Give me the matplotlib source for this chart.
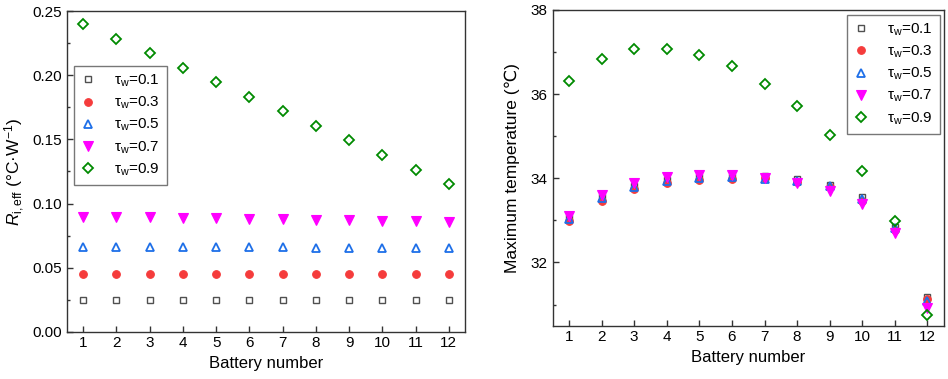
import matplotlib
matplotlib.use("Agg")
import matplotlib.pyplot as plt
from matplotlib.ticker import MultipleLocator

plt.rcParams['font.family'] = ['Liberation Sans', 'DejaVu Sans']
plt.rcParams['mathtext.fontset'] = 'custom'
plt.rcParams['mathtext.rm'] = 'Liberation Sans'
plt.rcParams['mathtext.it'] = 'Liberation Sans:italic'
plt.rcParams['mathtext.bf'] = 'Liberation Sans:bold'

batteries = [1, 2, 3, 4, 5, 6, 7, 8, 9, 10, 11, 12]
tau_labels = ['0.1', '0.3', '0.5', '0.7', '0.9']

# Left panel: effective thermal resistance
r_01 = [0.025, 0.025, 0.025, 0.025, 0.025, 0.025, 0.025, 0.025, 0.025, 0.025, 0.025, 0.025]
r_03 = [0.045, 0.045, 0.045, 0.045, 0.045, 0.045, 0.045, 0.0448, 0.0448, 0.0448, 0.0448, 0.0447]
r_05 = [0.066, 0.066, 0.066, 0.066, 0.066, 0.066, 0.0658, 0.0656, 0.0655, 0.0655, 0.0654, 0.0652]
r_07 = [0.0895, 0.0893, 0.0891, 0.0888, 0.0884, 0.0881, 0.0877, 0.0873, 0.0869, 0.0865, 0.0861, 0.0857]
r_09 = [0.240, 0.2287, 0.2172, 0.206, 0.1946, 0.1834, 0.172, 0.1605, 0.1493, 0.1379, 0.1264, 0.1152]

# Right panel: maximum temperature
t_01 = [33.05, 33.55, 33.82, 33.95, 34.02, 34.04, 34.06, 33.97, 33.85, 33.56, 32.84, 31.19]
t_03 = [32.99, 33.47, 33.74, 33.88, 33.96, 33.99, 34.00, 33.92, 33.80, 33.46, 32.78, 31.12]
t_05 = [33.03, 33.52, 33.79, 33.93, 34.00, 34.02, 33.99, 33.93, 33.81, 33.50, 32.81, 31.09]
t_07 = [33.11, 33.61, 33.88, 34.02, 34.07, 34.07, 34.01, 33.89, 33.69, 33.38, 32.71, 30.92]
t_09 = [36.30, 36.83, 37.06, 37.08, 36.93, 36.66, 36.25, 35.72, 35.03, 34.16, 32.98, 30.74]

styles = [
    dict(marker='s', mfc='none', mec='#505050', ms=4.2, mew=1.0),
    dict(marker='o', mfc='#F53C3C', mec='#F53C3C', ms=5.5, mew=0.8),
    dict(marker='^', mfc='none', mec='#1E6FE8', ms=6.2, mew=1.3),
    dict(marker='v', mfc='#FF00FF', mec='#FF00FF', ms=6.5, mew=0.8),
    dict(marker='D', mfc='none', mec='#008A00', ms=5.0, mew=1.3),
]

fig = plt.figure(figsize=(9.48, 3.79), dpi=100)
ax1 = fig.add_axes([0.0703, 0.125, 0.4207, 0.845])
ax2 = fig.add_axes([0.583, 0.141, 0.4125, 0.833])

def style_axes(ax):
    for s in ax.spines.values():
        s.set_color('#333333')
        s.set_linewidth(1.0)
    ax.tick_params(which='major', direction='in', length=4.5, width=1.0,
                   colors='#333333', labelcolor='black', labelsize=11,
                   top=False, right=False)
    ax.tick_params(which='minor', direction='in', length=2.5, width=1.0,
                   colors='#333333', top=False, right=False)
    ax.tick_params(axis='x', which='minor', bottom=False)
    ax.set_xlim(0.5, 12.5)
    ax.set_xticks(batteries)
    ax.set_xlabel('Battery number', fontsize=12)

legend_kw = dict(fontsize=11, frameon=True, fancybox=False, edgecolor='#555555',
                 handlelength=1.0, handletextpad=1.2, borderpad=0.45,
                 labelspacing=0.38, borderaxespad=0)

for ys, st, lab in zip([r_01, r_03, r_05, r_07, r_09], styles, tau_labels):
    ax1.plot(batteries, ys, ls='none', label=r'$\mathregular{\tau_w}$=' + lab, **st)
ax1.set_ylim(0, 0.25)
ax1.yaxis.set_major_locator(MultipleLocator(0.05))
ax1.yaxis.set_minor_locator(MultipleLocator(0.025))
ax1.yaxis.set_major_formatter(matplotlib.ticker.FormatStrFormatter('%.2f'))
style_axes(ax1)
ax1.set_ylabel(r'$\mathit{R}_{\mathregular{i,eff}}$ (°C·W$^{\mathregular{-1}}$)', fontsize=12.5, labelpad=4)
leg1 = ax1.legend(loc='upper left', bbox_to_anchor=(0.018, 0.83), **legend_kw)
leg1.get_frame().set_linewidth(1.0)

for ys, st, lab in zip([t_01, t_03, t_05, t_07, t_09], styles, tau_labels):
    ax2.plot(batteries, ys, ls='none', label=r'$\mathregular{\tau_w}$=' + lab, **st)
ax2.set_ylim(30.5, 38)
ax2.yaxis.set_major_locator(MultipleLocator(2))
ax2.yaxis.set_minor_locator(MultipleLocator(1))
style_axes(ax2)
ax2.set_ylabel('Maximum temperature (℃)', fontsize=12.5, labelpad=8)
leg2 = ax2.legend(loc='upper right', bbox_to_anchor=(0.99, 0.985), **legend_kw)
leg2.get_frame().set_linewidth(1.0)

fig.savefig('out.png', dpi=100)
